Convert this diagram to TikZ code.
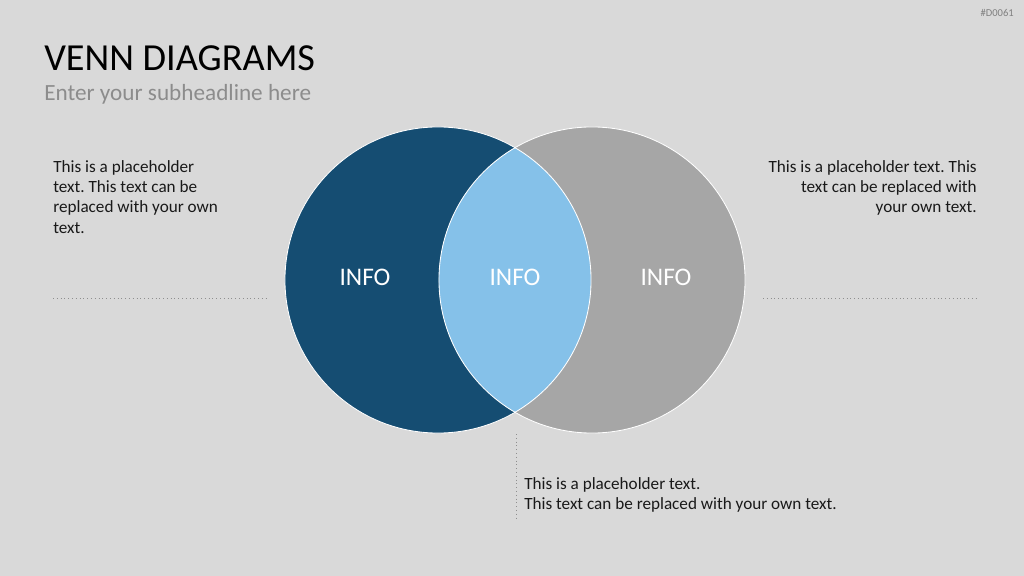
\documentclass[tikz,border=0pt]{standalone}
\usepackage{fontspec}
\setmainfont{Carlito}
\usepackage{xcolor}
\usetikzlibrary{positioning}
\frenchspacing

\definecolor{slidebg}{HTML}{D9D9D9}
\definecolor{venndark}{HTML}{154D72}
\definecolor{vennlight}{HTML}{85C1E9}
\definecolor{venngray}{HTML}{A6A6A6}
\definecolor{subgray}{HTML}{8C8C8C}
\definecolor{dotgray}{HTML}{8F8F8F}

\begin{document}
\begin{tikzpicture}[
  x=0.025cm, y=-0.025cm,
  venn/.style={circle, minimum size=7.65cm, inner sep=0pt},
  info/.style={font=\fontsize{18}{22}\selectfont, text=white},
  body/.style={font=\fontsize{12.2}{14.5}\selectfont, inner sep=0pt, text=black!90},
  guide/.style={dotgray, dotted, line width=0.7pt}
]

% slide
\fill[slidebg] (0,0) rectangle (1024,576);
\useasboundingbox (0,0) rectangle (1024,576);

\node[anchor=base west, inner sep=0pt, font=\fontsize{27.2}{30}\selectfont] (title) at (44,71) {VENN DIAGRAMS};
\node[anchor=base west, inner sep=0pt, font=\fontsize{16.5}{20}\selectfont, text=subgray] (sub) at (44,101) {Enter your subheadline here};
\node[anchor=base east, inner sep=0pt, font=\fontsize{7.5}{9}\selectfont, text=gray] (tag) at (1014,17) {\#D0061};

% circles
\node[venn, fill=venndark] (leftc) at (438,280) {};
\node[venn, fill=venngray] (rightc) at (592,280) {};
\begin{scope}
  \clip (leftc.center) circle[radius=3.825cm];
  \fill[vennlight] (rightc.center) circle[radius=3.825cm];
\end{scope}
\draw[white, line width=0.6pt] (leftc.center) circle[radius=3.825cm];
\draw[white, line width=0.6pt] (rightc.center) circle[radius=3.825cm];

\node[info] (infoL) at (365,277) {INFO};
\node[info] (infoM) at (515,277) {INFO};
\node[info] (infoR) at (666,277) {INFO};

% texts
\node[body, anchor=north west, align=left] (textL) at (53,160)
  {This is a placeholder\\text. This text can be\\replaced with your own\\text.};
\node[body, anchor=north east, align=right] (textR) at (977,160)
  {This is a placeholder text. This\\text can be replaced with\\your own text.};
\node[body, anchor=north west, align=left] (textB) at (524,477)
  {This is a placeholder text.\\This text can be replaced with your own text.};

% guides
\coordinate (gL1) at (53,298);
\coordinate (gL2) at (266,298);
\coordinate (gR1) at (763,298);
\coordinate (gR2) at (978,298);
\coordinate (gB1) at (516,434);
\coordinate (gB2) at (516,521);
\draw[guide] (gL1) -- (gL2);
\draw[guide] (gR1) -- (gR2);
\draw[guide] (gB1) -- (gB2);

\end{tikzpicture}
\end{document}
